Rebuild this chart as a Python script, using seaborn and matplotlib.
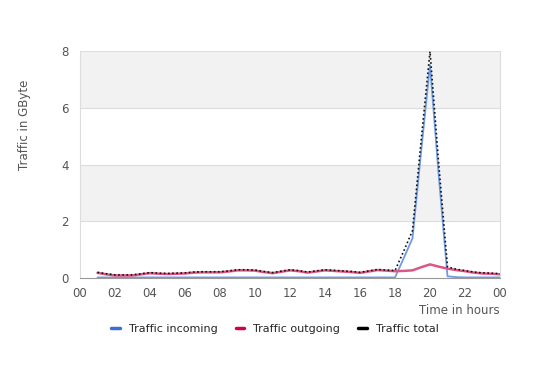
import numpy as np
import pandas as pd
import seaborn as sns
import matplotlib.pyplot as plt

hours = np.arange(1.0, 24.01, 0.5)

incoming = [0.02] * 35 + [0.7, 1.4, 4.5, 7.5, 3.6, 0.06, 0.03] + [0.02] * 5

outgoing = [0.18, 0.13, 0.09, 0.09, 0.09, 0.13, 0.17, 0.15, 0.14, 0.15,
            0.16, 0.19, 0.20, 0.20, 0.20, 0.23, 0.27, 0.27, 0.26, 0.21,
            0.17, 0.22, 0.27, 0.24, 0.19, 0.23, 0.27, 0.25, 0.23, 0.21,
            0.18, 0.23, 0.28, 0.26, 0.24, 0.25, 0.27, 0.38, 0.48, 0.40,
            0.33, 0.28, 0.24, 0.19, 0.16, 0.15, 0.13]

tick_hours = list(range(0, 25, 2))
tick_labels = ["00", "02", "04", "06", "08", "10", "12", "14", "16", "18", "20", "22", "00"]

df = pd.DataFrame({"hour": hours, "incoming": incoming, "outgoing": outgoing})
df["total"] = df["incoming"] + df["outgoing"]

sns.set_style("white")
plt.rcParams["font.family"] = ["DejaVu Sans"]

fig = plt.figure(figsize=(5.5, 3.7), dpi=100)
ax = fig.add_axes([80 / 550, 92 / 370, 420 / 550, 227 / 370])

# alternating bands
for lo in (2, 6):
    ax.axhspan(lo, lo + 2, color="#f2f2f2", zorder=0, lw=0)
for y in (2, 4, 6, 8):
    ax.axhline(y, color="#dddddd", lw=0.8, zorder=1)

sns.lineplot(data=df, x="hour", y="incoming", ax=ax, color="#6f9be3", lw=1.3, zorder=3)
sns.lineplot(data=df, x="hour", y="outgoing", ax=ax, color="#dd5585", lw=1.8, zorder=3)
sns.lineplot(data=df, x="hour", y="total", ax=ax, color="#111111", lw=1.2,
             linestyle=(0, (1, 1.5)), zorder=4)

ax.set_xlim(0, 24)
ax.set_ylim(0, 8)
ax.set_xticks(range(0, 25))
ax.set_xticklabels([tick_labels[tick_hours.index(h)] if h in tick_hours else "" for h in range(0, 25)])
ax.set_yticks([0, 2, 4, 6, 8])
ax.tick_params(axis="x", length=5, width=0.6, direction="inout", color="#aaaaaa",
               labelcolor="#555555", labelsize=8.5, pad=4)
ax.tick_params(axis="y", length=0, labelcolor="#555555", labelsize=8.5, pad=8)
ax.set_xlabel("")
ax.set_ylabel("")
for s in ("left", "right"):
    ax.spines[s].set_color("#dddddd")
ax.spines["top"].set_visible(False)
ax.spines["bottom"].set_color("#999999")

fig.text(25 / 550, 1 - 125 / 370, "Traffic in GByte", rotation=90, ha="center", va="center",
         fontsize=8.5, color="#555555")
fig.text(500 / 550, 1 - 311 / 370, "Time in hours", ha="right", va="center",
         fontsize=8.5, color="#555555")

handles = [plt.Line2D([], [], color=c, lw=2.5) for c in ("#3a6fd8", "#d0004f", "#000000")]
fig.legend(handles, ["Traffic incoming", "Traffic outgoing", "Traffic total"],
           loc="center", bbox_to_anchor=(0.5, 1 - 329 / 370), ncol=3, frameon=False,
           handlelength=0.8, handletextpad=0.8, columnspacing=1.6, fontsize=8)

fig.savefig("out.png", dpi=100)
